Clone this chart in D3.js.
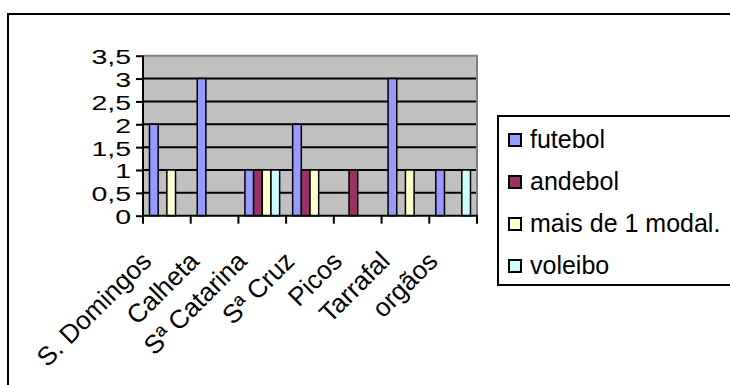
<!DOCTYPE html>
<html>
<head>
<meta charset="utf-8">
<script src="https://cdn.jsdelivr.net/npm/d3@7"></script>
<style>
  html, body { margin: 0; padding: 0; background: #fff; }
  svg { display: block; font-family: "Liberation Sans", Arial, sans-serif; }
</style>
</head>
<body>
<svg id="chart" width="730" height="385"></svg>
<script>
// Municipalities (categories) and sport types (series)
const categories = ["S. Domingos", "Calheta", "Sª Catarina", "Sª Cruz", "Picos", "Tarrafal", "orgãos"];
const seriesNames = ["futebol", "andebol", "mais de 1 modal.", "voleibo"];
const futebol = [2, 3, 1, 2, 0, 3, 1];
const andebol = [0, 0, 1, 1, 1, 0, 0];
const maisDe1 = [1, 0, 1, 1, 0, 1, 0];
const voleibo = [0, 0, 1, 0, 0, 0, 1];
const yTicks = [0, 0.5, 1, 1.5, 2, 2.5, 3, 3.5];
const yTickLabels = ["0", "0,5", "1", "1,5", "2", "2,5", "3", "3,5"];
const colors = ["#9999FF", "#993366", "#FFFFCC", "#CCFFFF"];

const seriesValues = [futebol, andebol, maisDe1, voleibo];

const svg = d3.select("#chart");

// Chart frame
svg.append("rect")
  .attr("x", 8).attr("y", 14).attr("width", 740).attr("height", 390)
  .attr("fill", "#fff").attr("stroke", "#000").attr("stroke-width", 2);

const plot = { left: 143, right: 477, top: 55.7, bottom: 215.7 };

const x0 = d3.scaleBand().domain(categories).range([plot.left, plot.right]).paddingInner(0).paddingOuter(0);
// 150% gap between clusters, split evenly on both sides
const x1 = d3.scaleBand().domain(seriesNames)
  .range([0, x0.bandwidth()])
  .paddingInner(0).paddingOuter(0.75);
const y = d3.scaleLinear().domain([0, 3.5]).range([plot.bottom, plot.top]);

// Plot area background
svg.append("rect")
  .attr("x", plot.left).attr("y", plot.top)
  .attr("width", plot.right - plot.left).attr("height", plot.bottom - plot.top)
  .attr("fill", "#C0C0C0");

// Gridlines
svg.append("g").selectAll("line")
  .data(yTicks.filter(t => t > 0 && t < 3.5))
  .join("line")
  .attr("x1", plot.left).attr("x2", plot.right)
  .attr("y1", d => y(d)).attr("y2", d => y(d))
  .attr("stroke", "#000").attr("stroke-width", 2);

// Top and right border of the plot area
svg.append("path")
  .attr("d", `M${plot.left},${plot.top}H${plot.right}V${plot.bottom}`)
  .attr("fill", "none").attr("stroke", "#808080").attr("stroke-width", 2);

// Bars
const groups = svg.append("g").selectAll("g")
  .data(categories)
  .join("g")
  .attr("transform", d => `translate(${x0(d)},0)`);

groups.selectAll("rect")
  .data((c, ci) => seriesNames.map((s, si) => ({ s, si, v: seriesValues[si][ci] })).filter(d => d.v > 0))
  .join("rect")
  .attr("x", d => x1(d.s))
  .attr("width", x1.bandwidth())
  .attr("y", d => y(d.v))
  .attr("height", d => y(0) - y(d.v))
  .attr("fill", d => colors[d.si])
  .attr("stroke", "#000").attr("stroke-width", 1.5);

// Y axis (labels drawn separately so they can be widened)
const yAxis = svg.append("g")
  .attr("transform", `translate(${plot.left},0)`)
  .call(d3.axisLeft(y).tickValues(yTicks).tickSize(7).tickFormat(""));
yAxis.select(".domain").attr("stroke", "#000").attr("stroke-width", 2).attr("d", `M0,${plot.top}V${plot.bottom}`);
yAxis.selectAll(".tick line").attr("stroke", "#000").attr("stroke-width", 2);

svg.append("g").selectAll("text")
  .data(yTicks)
  .join("text")
  .attr("transform", d => `translate(${plot.left - 12},${y(d) + 8.5}) scale(1.5,1.05)`)
  .attr("text-anchor", "end")
  .attr("font-size", 19)
  .attr("fill", "#000")
  .text((d, i) => yTickLabels[i]);

// X axis with ticks at category boundaries
const xAxisG = svg.append("g");
xAxisG.append("line")
  .attr("x1", plot.left - 1).attr("x2", plot.right + 1)
  .attr("y1", plot.bottom).attr("y2", plot.bottom)
  .attr("stroke", "#000").attr("stroke-width", 2);
const boundaries = categories.map(c => x0(c)).concat([plot.right]);
xAxisG.selectAll("line.tick")
  .data(boundaries)
  .join("line").attr("class", "tick")
  .attr("x1", d => d).attr("x2", d => d)
  .attr("y1", plot.bottom).attr("y2", plot.bottom + 8)
  .attr("stroke", "#000").attr("stroke-width", 2);

// Rotated category labels
xAxisG.selectAll("text")
  .data(categories)
  .join("text")
  .attr("transform", d => `translate(${x0(d) + x0.bandwidth() / 2 - 14},${plot.bottom + 47}) rotate(-45)`)
  .attr("text-anchor", "end")
  .attr("font-size", 26)
  .attr("fill", "#000")
  .text(d => d);

// Legend
const legend = svg.append("g");
legend.append("rect")
  .attr("x", 498).attr("y", 116).attr("width", 260).attr("height", 169)
  .attr("fill", "#fff").attr("stroke", "#000").attr("stroke-width", 2);
const rowY = d3.scalePoint().domain(seriesNames).range([140, 266]);
const items = legend.selectAll("g.item")
  .data(seriesNames)
  .join("g").attr("class", "item")
  .attr("transform", d => `translate(0,${rowY(d)})`);
items.append("rect")
  .attr("x", 509).attr("y", -6).attr("width", 12).attr("height", 12)
  .attr("fill", (d, i) => colors[i]).attr("stroke", "#000").attr("stroke-width", 2);
items.append("text")
  .attr("x", 530).attr("y", 8.3)
  .attr("font-size", 25).attr("fill", "#000")
  .text(d => d);
</script>
</body>
</html>
